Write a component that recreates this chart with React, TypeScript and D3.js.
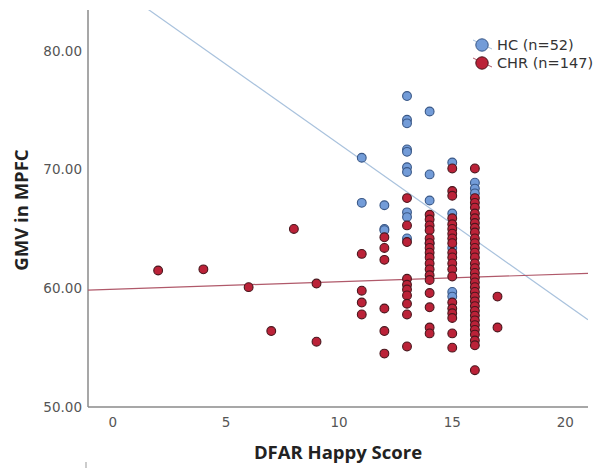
import React from 'react';
import * as d3 from 'd3';

// tick labels
const xTicks = [0, 5, 10, 15, 20];
const yTicks = [50, 60, 70, 80];

// HC group (blue), pairs of [happy score, GMV]
const hcX = [11, 11, 12, 12, 12, 13, 13, 13, 13, 13, 13, 13, 13, 13, 13, 14, 14, 14, 14, 15, 15, 15, 15, 15, 16, 16, 16];
const hcY = [71.0, 67.2, 67.0, 65.0, 64.9, 76.2, 74.2, 73.9, 71.7, 71.5, 70.2, 69.8, 66.4, 66.0, 64.2, 74.9, 69.6, 67.4, 63.8, 70.6, 66.3, 63.4, 59.7, 59.3, 68.9, 68.4, 68.0];

// CHR group (red)
const chrX = [
  2, 4, 6, 7, 8, 9, 9,
  11, 11, 11, 11,
  12, 12, 12, 12, 12, 12,
  13, 13, 13, 13, 13, 13, 13, 13, 13, 13,
  14, 14, 14, 14, 14, 14, 14, 14, 14, 14, 14, 14, 14, 14, 14, 14, 14,
  15, 15, 15, 15, 15, 15, 15, 15, 15, 15, 15, 15, 15, 15, 15, 15, 15, 15, 15, 15,
  16, 16, 16, 16, 16, 16, 16, 16, 16, 16, 16, 16, 16, 16, 16, 16, 16, 16, 16, 16, 16, 16, 16, 16, 16, 16, 16, 16, 16, 16, 16, 16, 16,
  17, 17,
];
const chrY = [
  61.5, 61.6, 60.1, 56.4, 65.0, 60.4, 55.5,
  62.9, 59.8, 58.8, 57.8,
  64.3, 63.4, 62.4, 58.3, 56.4, 54.5,
  67.6, 65.3, 63.9, 60.8, 60.3, 59.9, 59.4, 58.7, 57.8, 55.1,
  66.2, 65.8, 65.3, 64.9, 64.2, 63.8, 63.4, 63.0, 62.6, 62.1, 61.6, 61.1, 60.7, 59.6, 58.4, 56.7, 56.2,
  70.1, 68.2, 67.8, 65.9, 65.4, 65.0, 64.6, 64.2, 63.8, 63.0, 62.6, 62.1, 61.6, 61.0, 58.8, 58.3, 57.9, 57.5, 56.2, 55.0,
  70.1, 67.6, 67.2, 66.8, 66.3, 65.9, 65.5, 65.1, 64.7, 64.2, 63.8, 63.4, 63.0, 62.6, 62.1, 61.7, 61.3, 60.9, 60.5, 60.1, 59.7, 59.3, 58.9, 58.5, 58.1, 57.7, 57.3, 56.9, 56.5, 56.1, 55.6, 55.2, 53.1,
  59.3, 56.7,
];

// fit lines: [intercept, slope]
const hcFit = [85.6, -1.345];
const chrFit = [59.92, 0.064];

const legendLabels = ['HC (n=52)', 'CHR (n=147)'];

const blueFill = '#739cd8';
const blueStroke = '#3a5887';
const redFill = '#bb2238';
const redStroke = '#4a161d';

export default function App() {
  const left = 88, right = 588, top = 10, bottom = 407;
  const x = d3.scaleLinear().domain([-1.1, 21]).range([left, right]);
  const y = d3.scaleLinear().domain([50, 83.45]).range([bottom, top]);

  const line = d3.line<number[]>()
    .x(d => x(d[0]))
    .y(d => y(d[1]));

  // straight fit line across the whole x domain, clipped to the plot
  const fitPath = (fit: number[]) => {
    const [a, b] = fit;
    const xs = x.domain();
    return line([[xs[0], a + b * xs[0]], [xs[1], a + b * xs[1]]]) as string;
  };

  const tickFont = '"DejaVu Sans", sans-serif';
  const titleFont = '"Open Sans", sans-serif';

  return (
    <svg width={599} height={468} style={{ position: 'absolute', left: 0, top: 0, background: '#fff' }}>
      <defs>
        <clipPath id="plot">
          <rect x={left} y={top} width={right - left} height={bottom - top} />
        </clipPath>
      </defs>

      {/* axes */}
      <line x1={left} x2={left} y1={top} y2={bottom} stroke="#8a8a8a" strokeWidth={1.5} />
      <line x1={left} x2={right} y1={bottom} y2={bottom} stroke="#8a8a8a" strokeWidth={1.5} />

      {yTicks.map(t => (
        <text key={t} x={82} y={y(t)} dy="0.36em" textAnchor="end" fontFamily={tickFont} fontSize={13.5} fill="#555">
          {d3.format('.2f')(t)}
        </text>
      ))}
      {xTicks.map(t => (
        <text key={t} x={x(t)} y={427} textAnchor="middle" fontFamily={tickFont} fontSize={13.5} fill="#555">
          {t}
        </text>
      ))}

      {/* fit lines */}
      <g clipPath="url(#plot)">
        <path d={fitPath(hcFit)} stroke="#a9c2dd" strokeWidth={1.2} fill="none" />
        <path d={fitPath(chrFit)} stroke="#b0596a" strokeWidth={1.2} fill="none" />
      </g>

      {/* points */}
      <g>
        {hcX.map((v, i) => (
          <circle key={'h' + i} cx={x(v)} cy={y(hcY[i])} r={4.4} fill={blueFill} stroke={blueStroke} strokeWidth={1.1} />
        ))}
        {chrX.map((v, i) => (
          <circle key={'c' + i} cx={x(v)} cy={y(chrY[i])} r={4.4} fill={redFill} stroke={redStroke} strokeWidth={1.1} />
        ))}
      </g>

      {/* legend */}
      {legendLabels.map((lab, i) => {
        const cy = 45 + i * 18;
        const hc = i === 0;
        return (
          <g key={lab}>
            <line x1={473} x2={492} y1={cy - 5} y2={cy + 4} stroke={hc ? '#a9c2dd' : '#b0596a'} strokeWidth={1} />
            <circle cx={482} cy={cy} r={6.2} fill={hc ? blueFill : redFill} stroke={hc ? blueStroke : redStroke} strokeWidth={1} />
            <text x={497} y={cy} dy="0.36em" fontFamily={tickFont} fontSize={14.5} fill="#333">{lab}</text>
          </g>
        );
      })}

      {/* axis titles */}
      <text x={338} y={459} textAnchor="middle" fontFamily={titleFont} fontWeight="bold" fontSize={18.5} fill="#222">
        DFAR Happy Score
      </text>
      <text transform="translate(28,210) rotate(-90)" textAnchor="middle" fontFamily={titleFont} fontWeight="bold" fontSize={18.5} fill="#222">
        GMV in MPFC
      </text>

      <line x1={86} x2={86} y1={462} y2={468} stroke="#999" strokeWidth={1} />
    </svg>
  );
}
